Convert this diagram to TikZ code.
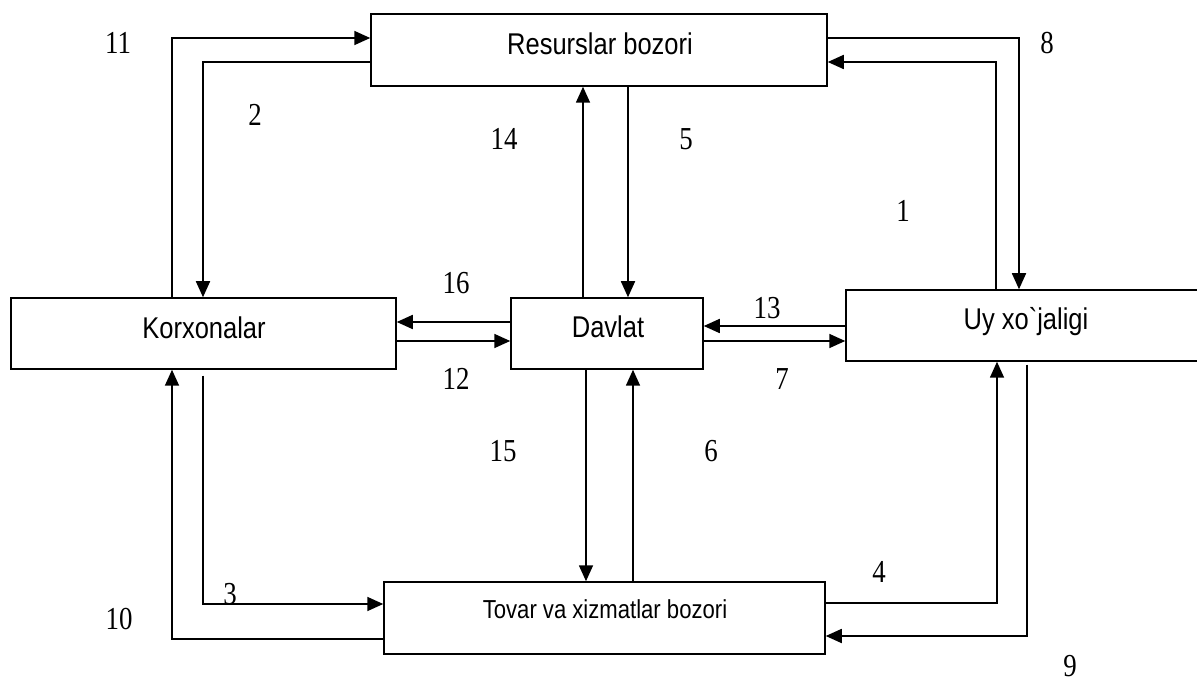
\documentclass[tikz,border=0pt]{standalone}
\usepackage{fontspec}
\setmainfont{Liberation Serif}[FakeStretch=0.84]
\newfontfamily\boxfont{Liberation Sans}[FakeStretch=0.85]
\usetikzlibrary{arrows.meta,calc}
\begin{document}
\begin{tikzpicture}[x=1pt,y=-1pt,
  box/.style={draw,line width=1.5pt,inner sep=0pt},
  boxtext/.style={font=\boxfont\fontsize{30}{36}\selectfont,anchor=base,inner sep=0pt},
  smalltext/.style={font=\boxfont\fontsize{26}{31}\selectfont,anchor=base,inner sep=0pt},
  num/.style={font=\fontsize{32}{38}\selectfont,inner sep=0pt},
  arr/.style={line width=1.7pt,-{Triangle[length=16pt,width=14pt]}}]
\useasboundingbox (0,0) rectangle (1197,684);
% boxes
\node[box,minimum width=456pt,minimum height=72pt] (res) at (599,50) {};
\node[box,minimum width=385pt,minimum height=71pt] (korx) at (203.5,333.5) {};
\node[box,minimum width=192pt,minimum height=71pt] (dav) at (607,333.5) {};
\begin{scope}
\clip (0,0) rectangle (1197,684);
\node[box,minimum width=364pt,minimum height=71pt] (uy) at (1028,325.5) {};
\end{scope}
\node[box,minimum width=441pt,minimum height=72pt] (tov) at (604.5,618) {};
% box texts
\node[boxtext] (tres) at (600,55) {Resurslar bozori};
\node[boxtext] (tkorx) at (204,339) {Korxonalar};
\node[boxtext] (tdav) at (608,338) {Davlat};
\node[boxtext] (tuy) at (1026,330) {Uy xo`jaligi};
\node[smalltext] (ttov) at (605,618) {Tovar va xizmatlar bozori};
% bend coordinates
\coordinate (c11) at (172,38);
\coordinate (c2) at (203,62);
\coordinate (c8) at (1019,38);
\coordinate (c1) at (996,62);
\coordinate (c14) at (583,0);
\coordinate (c5) at (628,0);
\coordinate (c16) at (0,322);
\coordinate (c12) at (0,341);
\coordinate (c13) at (0,326);
\coordinate (c7) at (0,341);
\coordinate (c15) at (586,0);
\coordinate (c6) at (633,0);
\coordinate (c3) at (203,604);
\coordinate (c10) at (172,639);
\coordinate (c4) at (997,603);
\coordinate (c9) at (1027,636);
% connectors
\draw[arr] (korx.north -| c11) |- (res.west |- c11);
\draw[arr] (res.west |- c2) -| (korx.north -| c2);
\draw[arr] (res.east |- c8) -| (uy.north -| c8);
\draw[arr] (uy.north -| c1) |- (res.east |- c1);
\draw[arr] (dav.north -| c14) -- (res.south -| c14);
\draw[arr] (res.south -| c5) -- (dav.north -| c5);
\draw[arr] (dav.west |- c16) -- (korx.east |- c16);
\draw[arr] (korx.east |- c12) -- (dav.west |- c12);
\draw[arr] (uy.west |- c13) -- (dav.east |- c13);
\draw[arr] (dav.east |- c7) -- (uy.west |- c7);
\draw[arr] (dav.south -| c15) -- (tov.north -| c15);
\draw[arr] (tov.north -| c6) -- (dav.south -| c6);
\draw[arr] ($(korx.south -| c3)+(0,6)$) |- (tov.west |- c3);
\draw[arr] (tov.west |- c10) -| (korx.south -| c10);
\draw[arr] (tov.east |- c4) -| (uy.south -| c4);
\draw[arr] ($(uy.south -| c9)+(0,3)$) |- (tov.east |- c9);
% numbers
\node[num] (n11) at (118,43) {11};
\node[num] (n2) at (255,115) {2};
\node[num] (n8) at (1047,43) {8};
\node[num] (n1) at (903,211) {1};
\node[num] (n14) at (504,139) {14};
\node[num] (n5) at (686,139) {5};
\node[num] (n16) at (456,283) {16};
\node[num] (n13) at (767,308) {13};
\node[num] (n12) at (456,379) {12};
\node[num] (n7) at (782,379) {7};
\node[num] (n15) at (503,451) {15};
\node[num] (n6) at (711,451) {6};
\node[num] (n3) at (230,594) {3};
\node[num] (n10) at (119,619) {10};
\node[num] (n4) at (879,572) {4};
\node[num] (n9) at (1070,666) {9};
\end{tikzpicture}
\end{document}
